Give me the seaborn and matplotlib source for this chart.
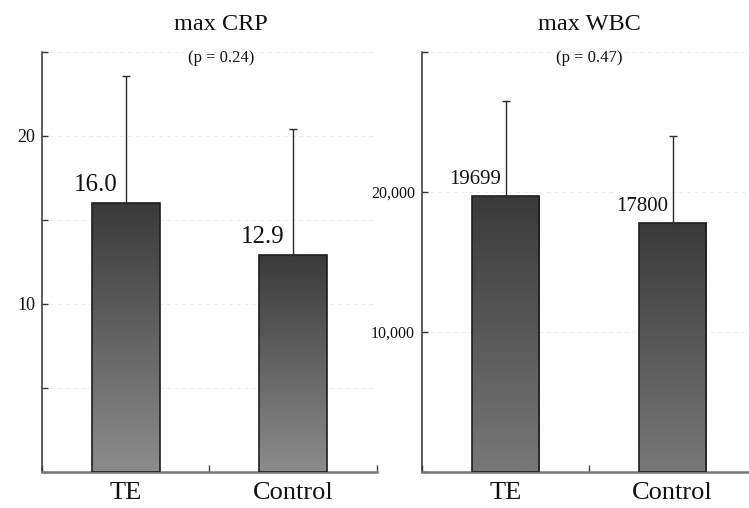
import numpy as np
import pandas as pd
import matplotlib
matplotlib.use("Agg")
import matplotlib.pyplot as plt
import seaborn as sns
from matplotlib.colors import LinearSegmentedColormap

# ---- data ----
groups = ["TE", "Control"]
crp_mean = [16.0, 12.9]
crp_sd = [7.6, 7.5]
wbc_mean = [19699, 17800]
wbc_sd = [6780, 6200]
crp_labels = ["16.0", "12.9"]
wbc_labels = ["19699", "17800"]
titles = ["max CRP", "max WBC"]
pvals = ["(p = 0.24)", "(p = 0.47)"]
crp_ticks = [0, 5, 10, 15, 20, 25]
crp_ticklabels = ["", "", "10", "", "20", ""]
wbc_ticks = [0, 10000, 20000, 30000]
wbc_ticklabels = ["", "10,000", "20,000", ""]

sns.set_theme(style="white")
plt.rcParams["font.family"] = ["Liberation Serif", "DejaVu Serif"]

fig = plt.figure(figsize=(7.49, 5.08), dpi=100)
axL = fig.add_axes([42/749, 1-472/508, 335/749, 420/508])
axR = fig.add_axes([422/749, 1-472/508, 334/749, 420/508])

panels = [
    (axL, crp_mean, crp_sd, crp_labels, (0, 25), crp_ticks, crp_ticklabels, 13, 18, "#8c8c8c", 0.535, -6),
    (axR, wbc_mean, wbc_sd, wbc_labels, (0, 30000), wbc_ticks, wbc_ticklabels, 11.5, 15, "#787878", 0.5, -3),
]

for i, (ax, means, sds, labels, ylim, ticks, tlabels, tfs, vfs, bottomc, tx, dx) in enumerate(panels):
    df = pd.DataFrame({"group": groups, "value": means})
    sns.barplot(data=df, x="group", y="value", ax=ax, width=0.405,
                color="#555555", edgecolor="#1e1e1e", linewidth=1.2,
                errorbar=None, zorder=3)
    ax.set_ylim(*ylim)
    ax.set_xlim(-0.5, 1.5)
    cmap = LinearSegmentedColormap.from_list("g", [bottomc, "#3a3a3a"])
    grad = np.linspace(0, 1, 256).reshape(-1, 1)
    for p, m, s, lab in zip(ax.patches, means, sds, labels):
        x0, y0, w, h = p.get_x(), p.get_y(), p.get_width(), p.get_height()
        im = ax.imshow(grad, extent=[x0, x0 + w, y0, y0 + h], origin="lower",
                       aspect="auto", cmap=cmap, zorder=3.5)
        im.set_clip_path(p)
        cx = x0 + w / 2
        ax.errorbar([cx], [m], yerr=[[0], [s]], fmt="none", ecolor="#2a2a2a",
                    elinewidth=1.0, capsize=3, capthick=1.0, zorder=5)
        ax.annotate(lab, xy=(cx, m), xytext=(dx, 5), textcoords="offset points",
                    ha="right", va="bottom", fontsize=vfs, color="#111111", zorder=6)
    for p in ax.patches:
        p.set_zorder(4)
        p.set_facecolor("none")
    ax.set_xlim(-0.5, 1.5)
    ax.set_ylim(*ylim)

    ax.set_yticks(ticks)
    ax.set_yticklabels(tlabels, fontsize=tfs, color="#111111")
    ax.tick_params(axis="y", left=True, direction="in", length=4, width=1, color="#333333", pad=5)
    ax.set_xticks([0, 1])
    ax.set_xticklabels(groups, fontsize=19, color="#111111")
    ax.set_xticks([-0.5, 0.5, 1.5], minor=True)
    ax.tick_params(axis="x", which="major", bottom=True, length=0, pad=7)
    ax.tick_params(axis="x", which="minor", bottom=True, direction="in", length=5, width=1, color="#444444")
    ax.set_xlabel("")
    ax.set_ylabel("")
    ax.yaxis.grid(True, linestyle=(0, (4, 4)), color="#ececec", linewidth=0.7, zorder=0)
    ax.xaxis.grid(False)
    ax.set_axisbelow(True)
    for sp in ["top", "right"]:
        ax.spines[sp].set_visible(False)
    ax.spines["left"].set_color("#333333")
    ax.spines["left"].set_linewidth(1.1)
    ax.spines["bottom"].set_color("#777777")
    ax.spines["bottom"].set_linewidth(1.8)
    ax.set_title(titles[i], fontsize=17.5, pad=16, x=tx, color="#111111")
    ax.text(tx, 0.986, pvals[i], transform=ax.transAxes, ha="center", va="center",
            fontsize=12, color="#111111")

fig.savefig("out.png", dpi=100)
